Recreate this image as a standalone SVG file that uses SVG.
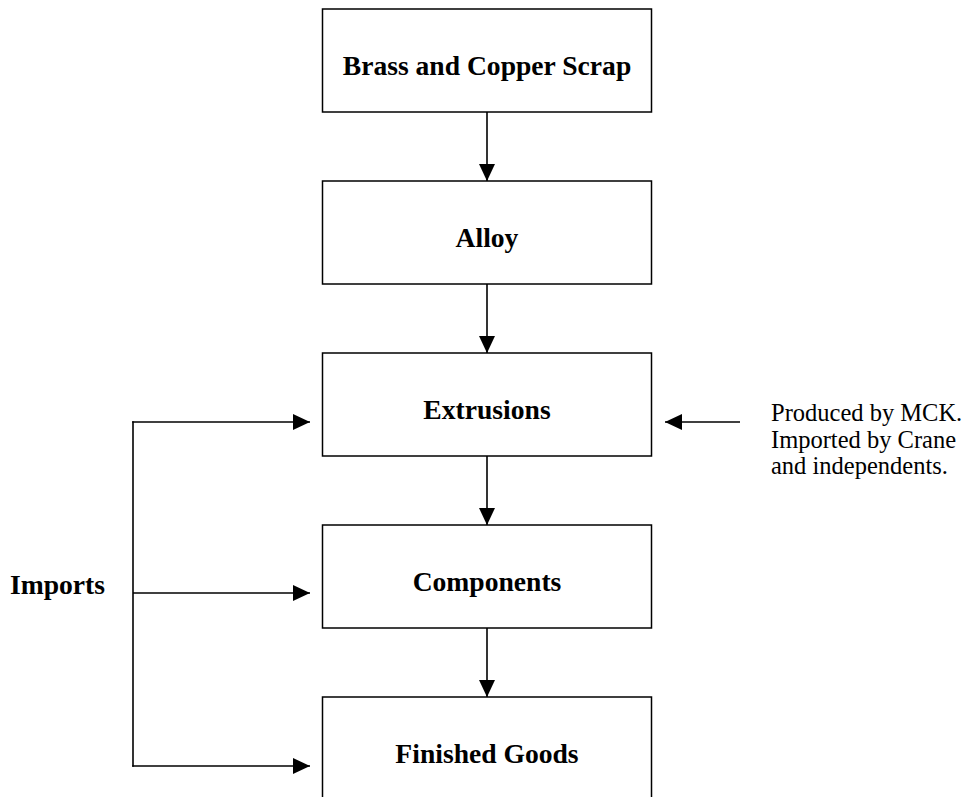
<svg xmlns="http://www.w3.org/2000/svg" width="970" height="797" viewBox="0 0 970 797">
<style>
.box{fill:#fff;stroke:#000;stroke-width:1.5}
.lbl{font-family:"Liberation Serif","Times New Roman",serif;font-weight:bold;font-size:27.6px;fill:#000}
.note{font-family:"Liberation Serif","Times New Roman",serif;font-size:24.5px;fill:#000}
.con{fill:none;stroke:#000;stroke-width:1.6}
</style>
<defs>
<marker id="ah" markerUnits="userSpaceOnUse" markerWidth="18" markerHeight="16" refX="17" refY="8" orient="auto">
<polygon points="0,0 17,8 0,16" fill="#000"/>
</marker>
</defs>
<rect width="970" height="797" fill="#fff"/>
<g id="connectors">
<line class="con" x1="487" y1="112" x2="487" y2="181" marker-end="url(#ah)"/>
<line class="con" x1="487" y1="284" x2="487" y2="353" marker-end="url(#ah)"/>
<line class="con" x1="487" y1="456" x2="487" y2="525" marker-end="url(#ah)"/>
<line class="con" x1="487" y1="628" x2="487" y2="697" marker-end="url(#ah)"/>
<line class="con" x1="133" y1="421.2" x2="133" y2="766.8"/>
<line class="con" x1="132.2" y1="422" x2="310" y2="422" marker-end="url(#ah)"/>
<line class="con" x1="133" y1="593" x2="310" y2="593" marker-end="url(#ah)"/>
<line class="con" x1="132.2" y1="766" x2="310" y2="766" marker-end="url(#ah)"/>
<line class="con" x1="740" y1="422" x2="665" y2="422" marker-end="url(#ah)"/>
</g>
<g id="node-scrap">
<rect class="box" x="322.5" y="9" width="329" height="103"/>
<text class="lbl" x="487" y="75" text-anchor="middle">Brass and Copper Scrap</text>
</g>
<g id="node-alloy">
<rect class="box" x="322.5" y="181" width="329" height="103"/>
<text class="lbl" x="487" y="247" text-anchor="middle">Alloy</text>
</g>
<g id="node-extrusions">
<rect class="box" x="322.5" y="353" width="329" height="103"/>
<text class="lbl" x="487" y="419" text-anchor="middle">Extrusions</text>
</g>
<g id="node-components">
<rect class="box" x="322.5" y="525" width="329" height="103"/>
<text class="lbl" x="487" y="591" text-anchor="middle">Components</text>
</g>
<g id="node-finished">
<rect class="box" x="322.5" y="697" width="329" height="103"/>
<text class="lbl" x="487" y="763" text-anchor="middle">Finished Goods</text>
</g>
<g id="label-imports">
<text class="lbl" x="10" y="594">Imports</text>
</g>
<g id="label-note">
<text class="note" x="771" y="421">Produced by MCK.</text>
<text class="note" x="771" y="448">Imported by Crane</text>
<text class="note" x="771" y="474">and independents.</text>
</g>
</svg>
